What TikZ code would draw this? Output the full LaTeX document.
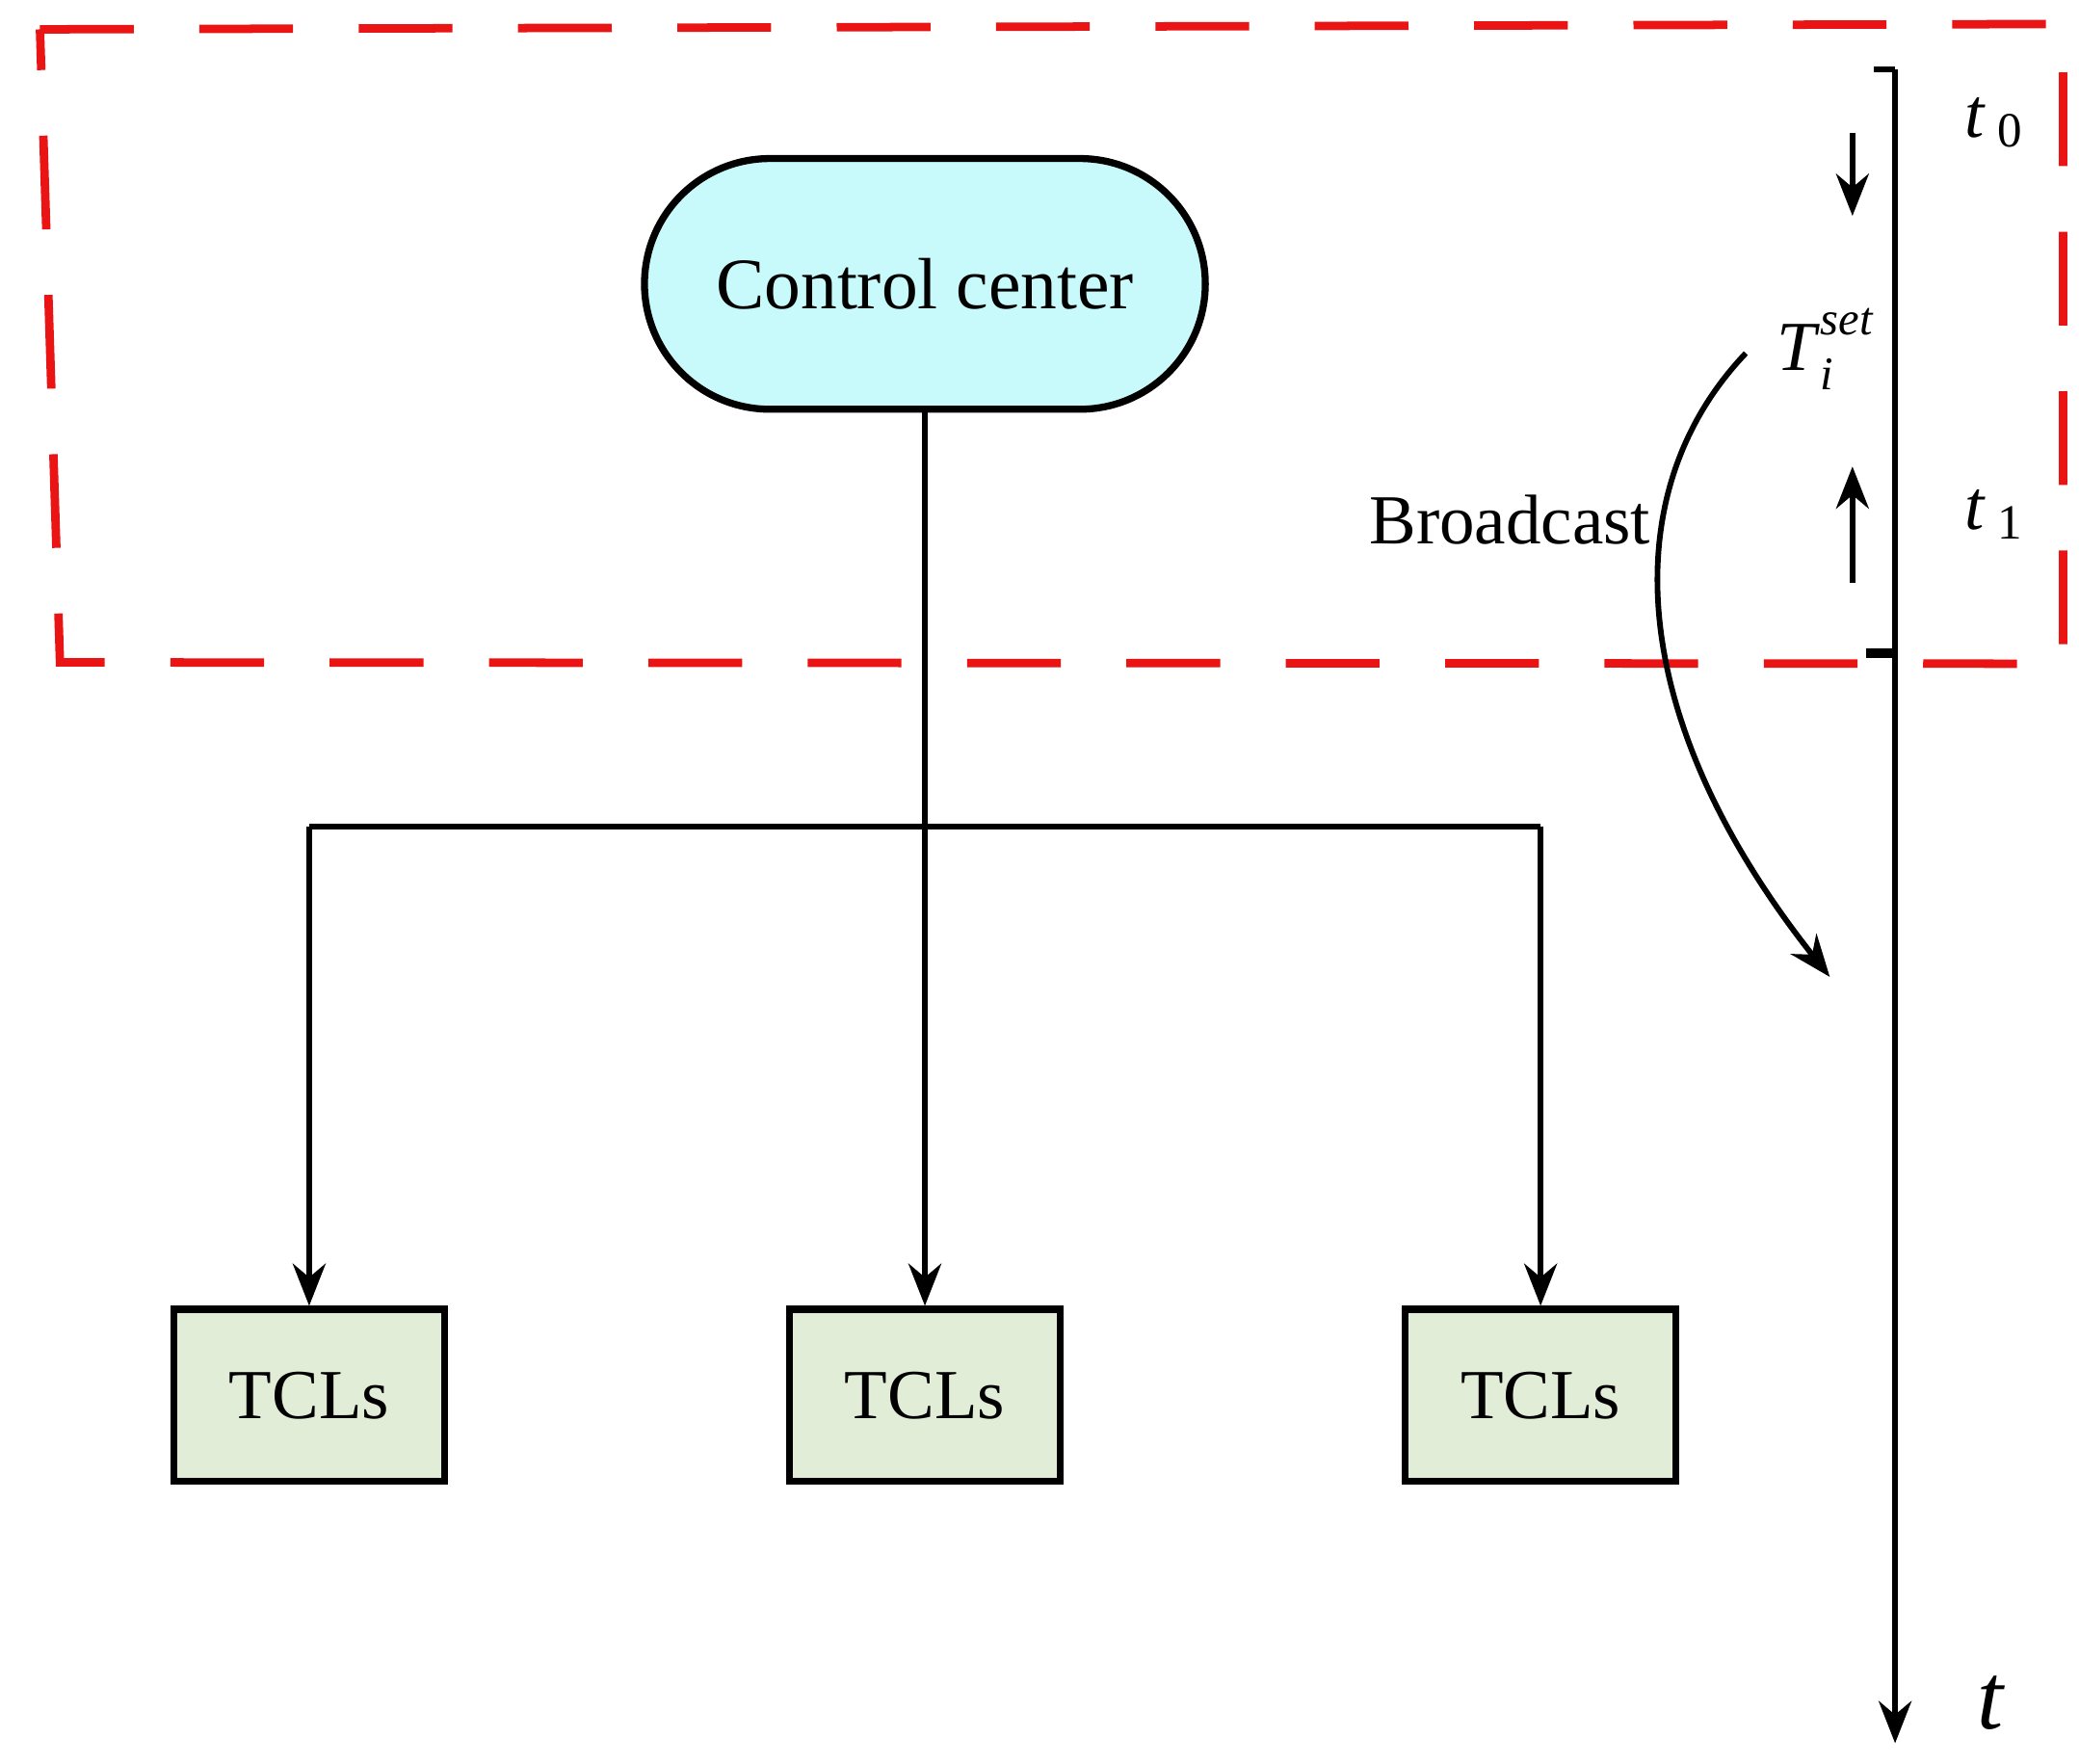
\documentclass[tikz,border=0pt]{standalone}
\usepackage{fontspec}
\setmainfont{Liberation Serif}
\usetikzlibrary{arrows.meta,shapes.misc}
\definecolor{cc}{RGB}{200,250,252}
\definecolor{tcl}{RGB}{226,237,216}
\definecolor{rd}{RGB}{235,20,20}
\begin{document}
\begin{tikzpicture}[x=0.01cm,y=-0.01cm,
 line width=1.2pt,
 arr/.style={-{Stealth[length=9pt,width=7pt]}},
 box/.style={draw,fill=tcl,minimum width=2.03cm,minimum height=1.29cm,font=\fontsize{15}{18}\selectfont,line width=1.5pt},
 lbl/.style={font=\fontsize{15}{18}\selectfont}]
\useasboundingbox (0,0) rectangle (1560,1323);
\draw[rd,line width=1.8pt,dash pattern=on 20pt off 14pt] (30,22) -- (1548,18) -- (1548,498) -- (45,497) -- cycle;
\node[draw,fill=cc,rounded rectangle,minimum width=4.44cm,minimum height=1.88cm,line width=1.5pt,font=\fontsize{15.5}{19}\selectfont] (cc) at (694,213) {Control center};
\node[box] (b1) at (232,1047) {TCLs};
\node[box] (b2) at (694,1047) {TCLs};
\node[box] (b3) at (1156,1047) {TCLs};
\coordinate (l) at (232,620);
\coordinate (r) at (1156,620);
\draw[arr] (cc.south) -- (b2.north);
\draw (l) -- (r);
\draw[arr] (l) -- (b1.north);
\draw[arr] (r) -- (b3.north);
\coordinate (ttop) at (1422,52);
\coordinate (tbot) at (1422,1308);
\draw[arr] (ttop) -- (tbot);
\coordinate (tk0) at (1406,52);
\draw (tk0) -- (ttop);
\coordinate (tk1a) at (1400,490);
\coordinate (tk1b) at (1422,490);
\draw[line width=2.2pt] (tk1a) -- (tk1b);
\coordinate (d1) at (1390,100); \coordinate (d2) at (1390,162);
\draw[arr] (d1) -- (d2);
\coordinate (u1) at (1390,437); \coordinate (u2) at (1390,350);
\draw[arr] (u1) -- (u2);
\node[lbl] (t0) at (1497,92) {\textit{t}\,\textsubscript{0}};
\node[lbl] (t1) at (1497,386) {\textit{t}\,\textsubscript{1}};
\node[font=\fontsize{20}{24}\selectfont] (t) at (1494,1278) {\textit{t}};
\node[lbl,inner sep=1pt,anchor=west] (ts) at (1328,262) {\textit{T}\rlap{\raisebox{1.1ex}{\fontsize{10}{12}\selectfont\textit{set}}}\raisebox{-0.6ex}{\fontsize{10}{12}\selectfont\textit{i}}};
\node[lbl] (bc) at (1133,390) {Broadcast};
\coordinate (c1) at (1310,265); \coordinate (c2) at (1373,733);
\draw[arr] (c1) .. controls (1210,370) and (1220,540) .. (c2);
\end{tikzpicture}
\end{document}
